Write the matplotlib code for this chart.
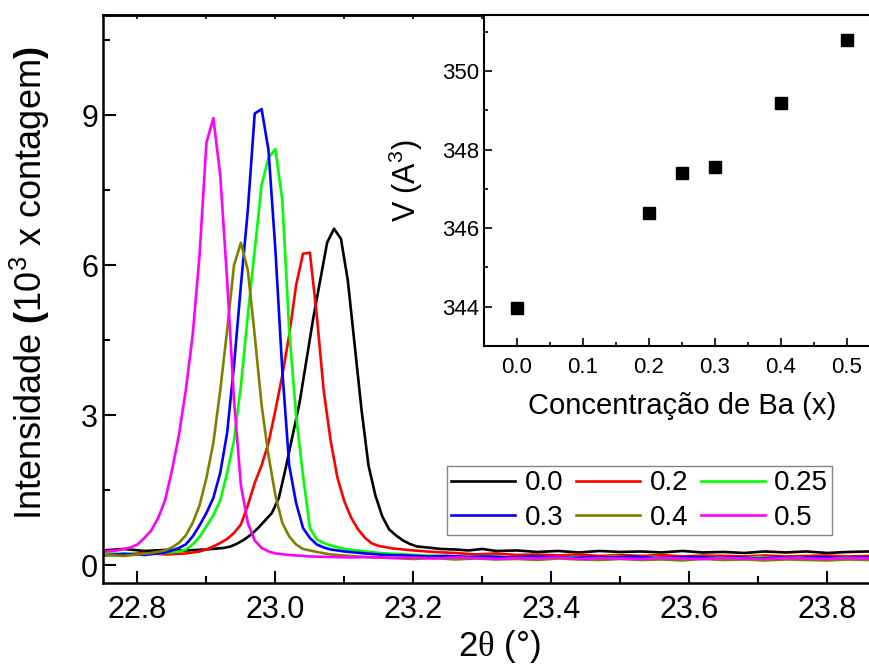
import matplotlib
matplotlib.use('Agg')
import matplotlib.pyplot as plt

plt.rcParams['font.family'] = ['Liberation Sans', 'DejaVu Sans']
plt.rcParams['mathtext.fontset'] = 'custom'
plt.rcParams['mathtext.rm'] = 'Liberation Sans'
plt.rcParams['mathtext.it'] = 'Liberation Sans:italic'
plt.rcParams['mathtext.bf'] = 'Liberation Sans:bold'
plt.rcParams['mathtext.sf'] = 'Liberation Serif'

# XRD scans around the (200) reflection, one per Ba content
x_00 = [22.75, 22.78, 22.81, 22.84, 22.87, 22.90, 22.925, 22.935, 22.945, 22.955, 22.965,
        22.975, 22.985, 22.995, 23.005, 23.015, 23.025, 23.035, 23.045, 23.055, 23.065,
        23.075, 23.085, 23.095, 23.105, 23.115, 23.125, 23.135, 23.145, 23.155, 23.165,
        23.175, 23.185, 23.195, 23.205, 23.22, 23.24, 23.26, 23.28, 23.30, 23.32, 23.35,
        23.38, 23.41, 23.44, 23.47, 23.50, 23.53, 23.56, 23.59, 23.62, 23.65, 23.68,
        23.71, 23.74, 23.77, 23.80, 23.83, 23.86, 23.90]
y_00 = [0.30, 0.33, 0.29, 0.31, 0.30, 0.32, 0.35, 0.38, 0.44, 0.52, 0.62,
        0.75, 0.90, 1.05, 1.35, 1.95, 2.60, 3.25, 4.10, 4.95, 5.70,
        6.45, 6.73, 6.53, 5.70, 4.40, 3.10, 2.00, 1.40, 0.98, 0.72,
        0.60, 0.50, 0.43, 0.38, 0.36, 0.33, 0.32, 0.30, 0.33, 0.29, 0.30,
        0.27, 0.29, 0.26, 0.29, 0.27, 0.28, 0.26, 0.29, 0.26, 0.27, 0.25,
        0.28, 0.26, 0.28, 0.25, 0.27, 0.28, 0.26]

x_02 = [22.75, 22.78, 22.81, 22.84, 22.87, 22.89, 22.90, 22.91, 22.92, 22.93, 22.94,
        22.95, 22.96, 22.97, 22.98, 22.99, 23.00, 23.01, 23.02, 23.03, 23.04, 23.05,
        23.06, 23.07, 23.08, 23.09, 23.10, 23.11, 23.12, 23.13, 23.14, 23.15, 23.17,
        23.20, 23.23, 23.26, 23.29, 23.32, 23.35, 23.38, 23.41, 23.44, 23.47, 23.50,
        23.53, 23.56, 23.59, 23.62, 23.65, 23.68, 23.71, 23.74, 23.77, 23.80, 23.83,
        23.86, 23.90]
y_02 = [0.24, 0.22, 0.25, 0.22, 0.24, 0.28, 0.32, 0.38, 0.45, 0.53, 0.65,
        0.82, 1.20, 1.65, 2.00, 2.45, 3.10, 3.80, 4.60, 5.60, 6.23, 6.25,
        5.00, 3.50, 2.50, 1.75, 1.28, 0.95, 0.72, 0.55, 0.44, 0.39, 0.34,
        0.30, 0.27, 0.25, 0.22, 0.24, 0.21, 0.22, 0.20, 0.22, 0.19, 0.21,
        0.19, 0.21, 0.18, 0.20, 0.19, 0.18, 0.20, 0.18, 0.19, 0.20, 0.18,
        0.19, 0.18]

x_025 = [22.75, 22.78, 22.81, 22.84, 22.86, 22.87, 22.88, 22.89, 22.90, 22.91, 22.92,
         22.93, 22.94, 22.95, 22.96, 22.97, 22.98, 22.99, 23.00, 23.01, 23.02, 23.03,
         23.04, 23.05, 23.06, 23.07, 23.08, 23.10, 23.13, 23.16, 23.19, 23.22, 23.25,
         23.28, 23.31, 23.34, 23.37, 23.40, 23.43, 23.46, 23.49, 23.52, 23.55, 23.58,
         23.61, 23.64, 23.67, 23.70, 23.73, 23.76, 23.79, 23.82, 23.85, 23.90]
y_025 = [0.22, 0.24, 0.22, 0.25, 0.28, 0.32, 0.42, 0.57, 0.78, 1.00, 1.30,
         1.85, 2.50, 3.60, 5.00, 6.30, 7.60, 8.15, 8.32, 7.30, 4.70, 3.00,
         1.80, 0.75, 0.52, 0.45, 0.40, 0.33, 0.28, 0.24, 0.22, 0.20, 0.19,
         0.17, 0.19, 0.16, 0.18, 0.16, 0.17, 0.15, 0.18, 0.16, 0.17, 0.15,
         0.17, 0.16, 0.14, 0.17, 0.15, 0.16, 0.14, 0.16, 0.15, 0.16]

x_03 = [22.75, 22.78, 22.81, 22.84, 22.85, 22.86, 22.87, 22.88, 22.89, 22.90, 22.91,
        22.92, 22.93, 22.94, 22.95, 22.96, 22.97, 22.98, 22.99, 23.00, 23.01, 23.02,
        23.03, 23.04, 23.05, 23.06, 23.07, 23.08, 23.10, 23.13, 23.16, 23.19, 23.22,
        23.25, 23.28, 23.31, 23.34, 23.37, 23.40, 23.43, 23.46, 23.49, 23.52, 23.55,
        23.58, 23.61, 23.64, 23.67, 23.70, 23.73, 23.76, 23.79, 23.82, 23.85, 23.90]
y_03 = [0.20, 0.23, 0.21, 0.26, 0.30, 0.35, 0.42, 0.58, 0.80, 1.05, 1.35,
        1.85, 2.65, 4.00, 5.60, 7.10, 9.03, 9.12, 8.30, 6.30, 3.90, 2.00,
        1.25, 0.75, 0.55, 0.42, 0.36, 0.32, 0.28, 0.24, 0.21, 0.20, 0.18,
        0.19, 0.17, 0.18, 0.16, 0.18, 0.17, 0.15, 0.17, 0.16, 0.18, 0.15,
        0.16, 0.17, 0.15, 0.16, 0.14, 0.16, 0.15, 0.17, 0.15, 0.16, 0.15]

x_04 = [22.75, 22.78, 22.80, 22.82, 22.84, 22.85, 22.86, 22.87, 22.88, 22.89, 22.90,
        22.91, 22.92, 22.93, 22.94, 22.95, 22.96, 22.97, 22.98, 22.99, 23.00, 23.01,
        23.02, 23.03, 23.04, 23.06, 23.08, 23.11, 23.14, 23.17, 23.20, 23.23, 23.26,
        23.29, 23.32, 23.35, 23.38, 23.41, 23.44, 23.47, 23.50, 23.53, 23.56, 23.59,
        23.62, 23.65, 23.68, 23.71, 23.74, 23.77, 23.80, 23.83, 23.86, 23.90]
y_04 = [0.21, 0.19, 0.22, 0.25, 0.30, 0.36, 0.45, 0.60, 0.85, 1.20, 1.75,
        2.45, 3.50, 4.70, 6.00, 6.45, 5.90, 4.60, 3.20, 2.20, 1.40, 0.85,
        0.58, 0.42, 0.33, 0.27, 0.22, 0.19, 0.16, 0.15, 0.13, 0.15, 0.12,
        0.14, 0.12, 0.13, 0.11, 0.14, 0.12, 0.11, 0.13, 0.11, 0.12, 0.10,
        0.13, 0.11, 0.12, 0.10, 0.12, 0.11, 0.10, 0.12, 0.11, 0.12]

x_05 = [22.75, 22.77, 22.79, 22.80, 22.81, 22.82, 22.83, 22.84, 22.85, 22.86, 22.87,
        22.88, 22.89, 22.90, 22.91, 22.92, 22.93, 22.94, 22.95, 22.96, 22.97, 22.98,
        22.99, 23.00, 23.02, 23.05, 23.08, 23.11, 23.14, 23.17, 23.20, 23.23, 23.26,
        23.29, 23.32, 23.35, 23.38, 23.41, 23.44, 23.47, 23.50, 23.53, 23.56, 23.59,
        23.62, 23.65, 23.68, 23.71, 23.74, 23.77, 23.80, 23.83, 23.86, 23.90]
y_05 = [0.28, 0.30, 0.36, 0.42, 0.55, 0.70, 0.95, 1.30, 1.90, 2.60, 3.50,
        4.60, 6.20, 8.45, 8.94, 7.80, 5.70, 3.30, 1.60, 0.85, 0.50, 0.35,
        0.28, 0.24, 0.21, 0.18, 0.17, 0.16, 0.17, 0.15, 0.16, 0.14, 0.16,
        0.15, 0.13, 0.15, 0.14, 0.16, 0.13, 0.15, 0.14, 0.13, 0.15, 0.14,
        0.13, 0.15, 0.14, 0.13, 0.15, 0.14, 0.13, 0.15, 0.14, 0.14]

scans = [(x_00, y_00, '0.0', '#000000'),
         (x_02, y_02, '0.2', '#ff0000'),
         (x_025, y_025, '0.25', '#00ff00'),
         (x_03, y_03, '0.3', '#0000ff'),
         (x_04, y_04, '0.4', '#808000'),
         (x_05, y_05, '0.5', '#ff00ff')]

# cell volume vs Ba content
ba_conc = [0.0, 0.2, 0.25, 0.3, 0.4, 0.5]
cell_vol = [343.96, 346.40, 347.41, 347.55, 349.19, 350.79]

fig = plt.figure(figsize=(8.7, 6.64), dpi=100)
ax = fig.add_axes([0.1184, 0.1220, 0.9115, 0.8554])

lines = {}
for xs, ys, lab, col in scans:
    lines[lab], = ax.plot(xs, ys, color=col, lw=1.9, label=lab)

ax.set_xlim(22.75, 23.9)
ax.set_ylim(-0.35, 11.0)
ax.set_xticks([22.8, 23.0, 23.2, 23.4, 23.6, 23.8])
ax.set_xticks([22.9, 23.1, 23.3, 23.5, 23.7], minor=True)
ax.set_yticks([0, 3, 6, 9])
ax.set_yticks([1.5, 4.5, 7.5, 10.5], minor=True)
ax.set_xticklabels(['22.8', '23.0', '23.2', '23.4', '23.6', '23.8'])
ax.tick_params(which='both', direction='in', labelsize=22, width=1.5)
ax.tick_params(which='major', length=9)
ax.tick_params(which='minor', length=5)
ax.tick_params(axis='x', pad=9)
for s in ax.spines.values():
    s.set_linewidth(1.8)

top = ax.secondary_xaxis('top')
top.set_xticks([22.8, 22.9, 23.0, 23.1, 23.2, 23.3, 23.4, 23.5, 23.6, 23.7, 23.8])
top.tick_params(direction='in', length=3, width=1.2, labeltop=False)
top.spines['top'].set_linewidth(1.8)

ax.set_xlabel(r'2$\mathsf{\theta}$ (°)', fontsize=25, labelpad=2)
ax.set_ylabel(r'Intensidade $\mathbf{(}$10$^3$ x contagem$\mathbf{)}$', fontsize=26, labelpad=21)
ax.yaxis.label.set_y(0.527)

order = ['0.0', '0.3', '0.2', '0.4', '0.25', '0.5']
leg = ax.legend([lines[k] for k in order], order, ncol=3, fontsize=20,
                loc='lower left', bbox_to_anchor=(447 / 870, 129 / 664),
                bbox_transform=fig.transFigure, borderaxespad=0,
                frameon=True, fancybox=False, edgecolor='#666666',
                handlelength=2.3, handletextpad=0.35, columnspacing=0.45,
                labelspacing=0.3, borderpad=0.15)
leg.get_frame().set_linewidth(1.0)

# inset: unit cell volume
ins = fig.add_axes([0.5563, 0.4789, 0.4552, 0.4985])
ins.plot(ba_conc, cell_vol, ls='none', marker='s', ms=9, color='black')
ins.set_xlim(-0.05, 0.55)
ins.set_ylim(343.0, 351.43)
ins.set_xticks([0.0, 0.1, 0.2, 0.3, 0.4, 0.5])
ins.set_xticks([0.05, 0.15, 0.25, 0.35, 0.45], minor=True)
ins.set_yticks([344, 346, 348, 350])
ins.set_yticks([343, 345, 347, 349, 351], minor=True)
ins.tick_params(which='both', direction='in', labelsize=16, width=1.2)
ins.tick_params(which='major', length=6)
ins.tick_params(which='minor', length=3)
ins.tick_params(axis='x', pad=8)
for s in ins.spines.values():
    s.set_linewidth(1.5)
ins.set_xlabel('Concentração de Ba (x)', fontsize=21, labelpad=10)
ins.set_ylabel(r'V (A$^3$)', fontsize=22, labelpad=12)

fig.savefig('out.png', dpi=100)
